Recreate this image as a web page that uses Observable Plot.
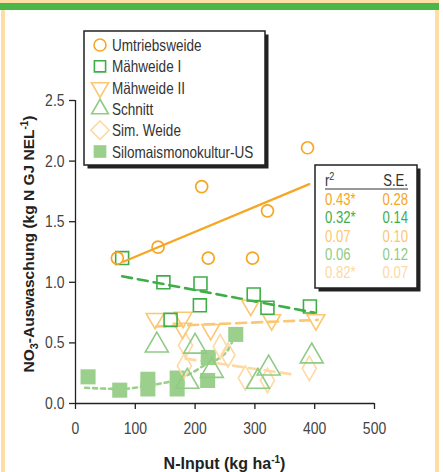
<!DOCTYPE html>
<html>
<head>
<meta charset="utf-8">
<script src="https://cdn.jsdelivr.net/npm/d3@7"></script>
<script src="https://cdn.jsdelivr.net/npm/@observablehq/plot@0.6"></script>
<style>
  html, body { margin: 0; padding: 0; background: white; }
  #wrap { position: relative; width: 443px; height: 472px; overflow: hidden; }
  .band { position: absolute; }
</style>
</head>
<body>
<div id="wrap">
  <div class="band" style="left:0;top:0;width:439px;height:3px;background:#FDDFA6"></div>
  <div class="band" style="left:0;top:3px;width:439px;height:7px;background:#4AB748"></div>
  <div class="band" style="left:1px;top:10px;width:4px;height:462px;background:#FDDFA6"></div>
  <div class="band" style="left:435px;top:10px;width:4px;height:462px;background:#FDDFA6"></div>
</div>
<script>
// ---------- data ----------
const seriesNames = ["Umtriebsweide", "Mähweide I", "Mähweide II", "Schnitt", "Sim. Weide", "Silomaismonokultur-US"];
const seriesColors = ["#F6A623", "#3FAE49", "#FCC772", "#8FCB84", "#FDD9A3", "#9AD08C"];

const xTicks = [0, 100, 200, 300, 400, 500];
const yTicks = [0, 0.5, 1.0, 1.5, 2.0, 2.5];

// Umtriebsweide (circles)
const umX = [70, 138, 211, 222, 296, 321, 388];
const umY = [1.20, 1.29, 1.79, 1.20, 1.20, 1.59, 2.11];
// Mähweide I (squares)
const m1X = [78, 147, 209, 208, 298, 321, 392, 159];
const m1Y = [1.20, 1.00, 0.99, 0.81, 0.90, 0.79, 0.80, 0.69];
// Mähweide II (down triangles)
const m2X = [133, 180, 179, 226, 293, 328, 402];
const m2Y = [0.70, 0.71, 0.62, 0.61, 0.81, 0.69, 0.69];
// Schnitt (up triangles)
const scX = [136, 200, 187, 228, 305, 323, 395];
const scY = [0.48, 0.47, 0.18, 0.27, 0.18, 0.29, 0.39];
// Sim. Weide (diamonds)
const swX = [184, 182, 242, 255, 284, 321, 391];
const swY = [0.48, 0.31, 0.47, 0.40, 0.21, 0.19, 0.29];
// Silomaismonokultur-US (filled squares)
const smX = [21, 74, 121, 121, 170, 170, 221, 222, 268];
const smY = [0.22, 0.11, 0.20, 0.12, 0.21, 0.12, 0.19, 0.38, 0.57];

// fitted lines
const umFitX = [80, 391];   const umFitY = [1.17, 1.81];
const m1FitX = [78, 399];   const m1FitY = [1.05, 0.75];
const m2FitX = [135, 405];  const m2FitY = [0.635, 0.69];
const swFitX = [184, 363];  const swFitY = [0.37, 0.24];
const smFitX = [16, 75, 125, 164, 197, 217, 242, 256, 263];
const smFitY = [0.13, 0.12, 0.15, 0.19, 0.26, 0.32, 0.38, 0.45, 0.52];

// r² / S.E. table
const r2Values = ["0.43*", "0.32*", "0.07", "0.06", "0.82*"];
const seValues = ["0.28", "0.14", "0.10", "0.12", "0.07"];

// ---------- helpers ----------
const FONT = "'Liberation Sans', Arial, Helvetica, sans-serif";
const COND = 0.82; // horizontal squeeze imitating the condensed face of the original
const pts = (xs, ys) => xs.map((x, i) => ({x, y: ys[i]}));
const triangleDown = {
  draw(ctx, size) {
    const s = Math.sqrt(size) * 0.6824, t = s / 2, u = s * Math.sqrt(3) / 2;
    ctx.moveTo(0, s); ctx.lineTo(-u, -t); ctx.lineTo(u, -t); ctx.closePath();
  }
};
const [cUm, cM1, cM2, cSc, cSw, cSm] = seriesColors;

const plot = Plot.plot({
  width: 443,
  height: 472,
  marginLeft: 75,
  marginRight: 69,
  marginTop: 100,
  marginBottom: 69,
  style: {background: "transparent", fontFamily: FONT, fontSize: "17px", overflow: "visible"},
  x: {domain: [0, 500]},
  y: {domain: [0, 2.5]},
  marks: [
    Plot.axisX({ticks: xTicks, tickSize: 6, tickPadding: 12, label: null, stroke: "#222", strokeWidth: 1.3, fill: "#444", tickFormat: d => String(d)}),
    Plot.axisY({ticks: yTicks, tickSize: 6, tickPadding: 5, label: null, stroke: "#222", strokeWidth: 1.3, fill: "#444", tickFormat: d3.format(".1f")}),
    Plot.ruleY([0], {stroke: "#222", strokeWidth: 1.3}),
    Plot.ruleX([0], {stroke: "#222", strokeWidth: 1.3}),
    Plot.line(pts(smFitX, smFitY), {x: "x", y: "y", stroke: cSm, strokeWidth: 2.6, strokeDasharray: "4,4", curve: "monotone-x"}),
    Plot.line(pts(swFitX, swFitY), {x: "x", y: "y", stroke: cSw, strokeWidth: 2.6, strokeDasharray: "10,6"}),
    Plot.line(pts(m2FitX, m2FitY), {x: "x", y: "y", stroke: cM2, strokeWidth: 2.6, strokeDasharray: "10,6"}),
    Plot.line(pts(m1FitX, m1FitY), {x: "x", y: "y", stroke: cM1, strokeWidth: 2.6, strokeDasharray: "10,6"}),
    Plot.dot(pts(smX, smY), {x: "x", y: "y", symbol: "square", r: 8.5, fill: cSm, stroke: "none"}),
    Plot.dot(pts(swX, swY), {x: "x", y: "y", symbol: "diamond", r: 7.4, fill: "none", stroke: cSw, strokeWidth: 1.6}),
    Plot.dot(pts(scX, scY), {x: "x", y: "y", symbol: "triangle", r: 8.5, fill: "none", stroke: cSc, strokeWidth: 1.6}),
    Plot.dot(pts(m2X, m2Y), {x: "x", y: "y", symbol: triangleDown, r: 8.5, fill: "none", stroke: cM2, strokeWidth: 1.6}),
    Plot.dot(pts(m1X, m1Y), {x: "x", y: "y", symbol: "square", r: 7.3, fill: "none", stroke: cM1, strokeWidth: 1.6}),
    Plot.line(pts(umFitX, umFitY), {x: "x", y: "y", stroke: cUm, strokeWidth: 2.2}),
    Plot.dot(pts(umX, umY), {x: "x", y: "y", symbol: "circle", r: 6, fill: "none", stroke: cUm, strokeWidth: 1.7})
  ]
});
plot.style.position = "absolute";
plot.style.left = "0px";
plot.style.top = "0px";
document.getElementById("wrap").appendChild(plot);

const svg = d3.select(plot);

// ---------- axis titles ----------
const xt = svg.append("text")
  .attr("class", "title")
  .attr("x", 224.5).attr("y", 469)
  .attr("text-anchor", "middle")
  .attr("font-family", FONT).attr("font-weight", "bold").attr("font-size", 16).attr("fill", "#222");
xt.append("tspan").text("N-Input (kg ha");
xt.append("tspan").attr("font-size", 10).attr("dy", -6).text("-1");
xt.append("tspan").attr("dy", 6).text(")");

const yt = svg.append("text")
  .attr("class", "title")
  .attr("transform", "translate(33.5,244) rotate(-90)")
  .attr("text-anchor", "middle")
  .attr("font-family", FONT).attr("font-weight", "bold").attr("font-size", 15.5).attr("fill", "#222");
yt.append("tspan").text("NO");
yt.append("tspan").attr("font-size", 11).attr("dy", 4).text("3");
yt.append("tspan").attr("dy", -4).text("-Auswaschung (kg N GJ NEL");
yt.append("tspan").attr("font-size", 10).attr("dy", -6).text("-1");
yt.append("tspan").attr("dy", 6).text(")");

// ---------- legend ----------
const legendSymbols = [
  {type: d3.symbolCircle, size: Math.PI * 36, fill: "none"},
  {type: d3.symbolSquare2, size: 160, fill: "none"},
  {type: triangleDown, size: 207, fill: "none"},
  {type: d3.symbolTriangle2, size: 200, fill: "none"},
  {type: d3.symbolDiamond2, size: 216, fill: "none"},
  {type: d3.symbolSquare2, size: 205, fill: "solid"}
];
const lg = svg.append("g").attr("text-anchor", "start");
lg.append("rect").attr("x", 87.5).attr("y", 34.5).attr("width", 181).attr("height", 134).attr("fill", "#222");
lg.append("rect").attr("x", 84).attr("y", 31).attr("width", 181).attr("height", 134)
  .attr("fill", "white").attr("stroke", "#222").attr("stroke-width", 1.5);
seriesNames.forEach((name, i) => {
  const cy = 45 + 21.3 * i;
  const sym = legendSymbols[i];
  lg.append("path")
    .attr("transform", `translate(100,${cy})`)
    .attr("d", d3.symbol(sym.type, sym.size)())
    .attr("fill", sym.fill === "solid" ? seriesColors[i] : "none")
    .attr("stroke", sym.fill === "solid" ? "none" : seriesColors[i])
    .attr("stroke-width", 1.6);
  lg.append("text").attr("x", 112).attr("y", cy + 6)
    .attr("text-anchor", "start")
    .attr("font-family", FONT).attr("font-size", 16.5).attr("fill", "#333").text(name);
});

// ---------- r² table ----------
const tb = svg.append("g");
tb.append("rect").attr("x", 318.5).attr("y", 168.5).attr("width", 102).attr("height", 123).attr("fill", "#222");
tb.append("rect").attr("x", 315).attr("y", 165).attr("width", 102).attr("height", 123)
  .attr("fill", "white").attr("stroke", "#222").attr("stroke-width", 1.5);
const hdr = tb.append("text").attr("x", 325).attr("y", 186).attr("text-anchor", "start")
  .attr("font-family", FONT).attr("font-size", 16).attr("fill", "#333");
hdr.append("tspan").text("r");
hdr.append("tspan").attr("font-size", 11).attr("dy", -6).text("2");
tb.append("text").attr("x", 408).attr("y", 186).attr("text-anchor", "end")
  .attr("font-family", FONT).attr("font-size", 16).attr("fill", "#333").text("S.E.");
tb.append("line").attr("x1", 325).attr("x2", 408).attr("y1", 189).attr("y2", 189)
  .attr("stroke", "#333").attr("stroke-width", 1);
r2Values.forEach((v, i) => {
  const y = 204.8 + 18.4 * i;
  tb.append("text").attr("x", 325).attr("y", y).attr("text-anchor", "start")
    .attr("font-family", FONT).attr("font-size", 16).attr("fill", seriesColors[i]).text(v);
  tb.append("text").attr("x", 408).attr("y", y).attr("text-anchor", "end")
    .attr("font-family", FONT).attr("font-size", 16).attr("fill", seriesColors[i]).text(seValues[i]);
});

// ---------- condensed look for non-title text ----------
svg.selectAll("text").each(function () {
  if (this.classList.contains("title")) return;
  const L = this.getComputedTextLength();
  if (L > 0) {
    this.setAttribute("textLength", (L * COND).toFixed(2));
    this.setAttribute("lengthAdjust", "spacingAndGlyphs");
  }
});
</script>
</body>
</html>
